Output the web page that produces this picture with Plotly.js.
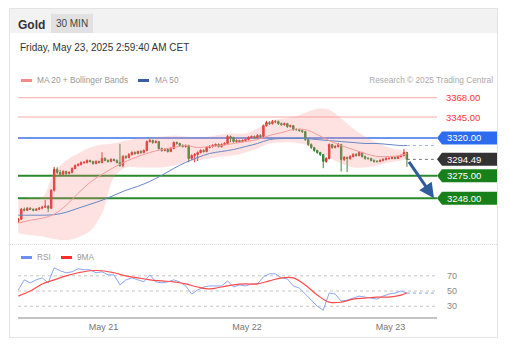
<!DOCTYPE html>
<html><head><meta charset="utf-8">
<script src="https://cdn.plot.ly/plotly-3.0.1.min.js"></script>
<style>
body{margin:0;background:#fff;font-family:Arial,"Liberation Sans",sans-serif;}
.t{position:absolute;white-space:nowrap;}
.sw{position:absolute;height:3px;width:11px;}
</style></head><body>
<div style="position:absolute;left:9px;top:8px;width:489px;height:330px;border:1px solid #e4e4e4;box-sizing:border-box;"></div>
<div style="position:absolute;left:10px;top:9px;width:487px;height:24px;background:#f2f2f2;"></div>
<div class="t" style="left:18px;top:19px;font-size:12px;line-height:12px;font-weight:bold;color:#333">Gold</div>
<div class="t" style="left:51px;top:14px;width:42px;height:19px;background:#e1e1e1;font-size:10px;line-height:19px;text-align:center;color:#444">30 MIN</div>
<div class="t" style="left:20px;top:43px;font-size:10px;line-height:10px;color:#333">Friday, May 23, 2025 2:59:40 AM CET</div>
<div class="sw" style="left:21px;top:79px;background:#f28a8a"></div>
<div class="t" style="left:37px;top:76px;font-size:8.3px;line-height:8px;color:#999">MA 20 + Bollinger Bands</div>
<div class="sw" style="left:138px;top:79px;background:#3a5fa0"></div>
<div class="t" style="left:155px;top:76px;font-size:8.3px;line-height:8px;color:#999">MA 50</div>
<div class="t" style="right:16px;top:76px;font-size:8.3px;line-height:8px;color:#aaa">Research © 2025 Trading Central</div>
<div style="position:absolute;left:10px;top:244px;width:487px;border-top:1px dotted #dcdcdc;"></div>
<div class="sw" style="left:21px;top:256px;background:#6d8ff0"></div>
<div class="t" style="left:37px;top:253px;font-size:8.3px;line-height:8px;color:#999">RSI</div>
<div class="sw" style="left:61px;top:256px;background:#ff2a2a"></div>
<div class="t" style="left:77px;top:253px;font-size:8.3px;line-height:8px;color:#999">9MA</div>
<div id="chart" style="position:absolute;left:0;top:0;width:509px;height:356px"></div>
<script>
// ---- data ----
const firstOpen = 3220.7;
const closes = [
3223.1,3235.0,3233.8,3236.2,3235.0,3233.8,3235.0,3236.2,3237.4,3238.6,
3236.2,3257.6,3282.5,3278.9,3276.6,3280.1,3277.7,3278.9,3283.7,3287.2,
3288.4,3290.8,3290.8,3293.2,3292.0,3289.6,3292.0,3290.8,3295.6,3293.2,
3292.0,3294.4,3293.2,3290.8,3287.2,3297.9,3296.7,3300.3,3302.7,3301.5,
3303.9,3302.7,3305.1,3315.7,3316.9,3314.6,3315.7,3307.4,3305.1,3306.2,
3303.9,3307.4,3314.6,3313.4,3311.0,3309.8,3311.0,3295.6,3299.1,3300.3,
3302.7,3305.1,3303.9,3308.6,3309.8,3311.0,3312.2,3309.8,3312.2,3313.4,
3321.7,3320.5,3315.7,3316.9,3315.7,3316.9,3318.1,3320.5,3321.7,3320.5,
3322.9,3321.7,3334.7,3338.3,3337.1,3339.5,3339.5,3337.1,3335.9,3337.1,
3333.6,3334.7,3330.0,3330.0,3328.8,3327.6,3318.1,3312.2,3308.6,3305.1,
3302.7,3300.3,3292.0,3295.6,3312.2,3308.6,3309.8,3312.2,3294.4,3296.7,
3295.6,3297.9,3300.3,3299.1,3302.7,3297.9,3295.6,3295.6,3293.2,3292.0,
3292.0,3293.2,3294.4,3295.6,3295.6,3296.7,3295.6,3297.9,3299.1,3302.7,
3294.49];
const highs = [
3224.5,3236.5,3237.0,3237.5,3237.4,3236.0,3236.4,3237.6,3239.0,3246.0,
3240.0,3259.0,3285.5,3285.0,3282.0,3281.5,3281.0,3280.5,3285.0,3288.5,
3290.0,3292.0,3292.5,3294.5,3294.0,3293.0,3293.5,3293.0,3303.0,3297.0,
3294.5,3295.8,3295.5,3294.5,3313.0,3299.5,3299.5,3302.0,3304.0,3304.0,
3305.0,3305.5,3306.5,3317.0,3319.0,3318.0,3317.5,3316.5,3308.5,3307.8,
3307.5,3309.0,3316.0,3315.8,3314.5,3312.5,3312.5,3312.0,3300.5,3302.0,
3304.0,3306.5,3306.5,3310.0,3311.5,3312.5,3313.5,3313.5,3313.5,3315.0,
3323.5,3323.0,3321.5,3318.5,3318.0,3318.2,3319.5,3322.0,3323.0,3323.0,
3324.5,3324.5,3336.0,3340.5,3340.0,3341.5,3341.5,3341.0,3338.5,3338.5,
3338.0,3336.0,3335.5,3331.5,3331.0,3330.0,3328.5,3319.0,3313.5,3309.5,
3306.0,3303.5,3301.0,3297.0,3313.5,3313.0,3311.5,3314.0,3313.0,3298.5,
3298.0,3299.5,3302.0,3302.0,3304.5,3303.5,3299.0,3297.0,3296.5,3294.5,
3293.5,3294.5,3295.8,3297.0,3297.0,3298.0,3298.0,3299.2,3300.5,3307.0,
3303.5];
const lows = [
3219.0,3222.0,3232.5,3232.8,3234.0,3232.5,3232.8,3234.2,3235.0,3236.5,
3231.5,3235.0,3256.0,3277.0,3275.0,3275.5,3276.0,3276.5,3277.8,3282.5,
3286.0,3287.0,3289.0,3289.5,3290.5,3288.0,3288.5,3289.5,3289.8,3292.0,
3290.5,3291.0,3292.0,3289.5,3285.5,3285.0,3295.0,3295.5,3299.0,3300.0,
3300.5,3301.0,3301.5,3304.0,3314.5,3313.0,3313.5,3306.0,3303.5,3304.0,
3302.5,3303.0,3306.5,3312.0,3309.5,3308.5,3308.5,3291.0,3294.0,3291.0,
3292.5,3301.5,3302.5,3302.8,3307.5,3308.5,3309.5,3308.5,3308.5,3311.0,
3312.5,3315.0,3314.5,3314.5,3314.5,3314.8,3315.5,3317.0,3319.5,3319.0,
3319.5,3320.0,3320.5,3333.5,3335.5,3336.0,3337.5,3335.5,3334.5,3334.5,
3332.0,3332.5,3328.5,3328.5,3327.5,3326.0,3316.5,3310.5,3307.0,3303.5,
3301.0,3298.5,3284.0,3290.5,3294.5,3307.0,3307.5,3308.5,3280.0,3292.5,
3279.5,3294.0,3296.5,3297.5,3298.0,3296.5,3294.0,3294.0,3292.0,3290.5,
3290.5,3291.0,3292.0,3293.0,3294.0,3294.5,3294.5,3294.8,3296.5,3298.0,
3285.5];
// MA / bands sampled every 4th candle (plus the last one)
const ma20 = [3218.4,3221.9,3224.3,3229.1,3239.7,3254.0,3267.1,3276.6,3284.9,3292.0,3297.9,3302.7,3306.2,3308.6,3311.0,3308.6,3309.8,3311.0,3313.4,3315.7,3318.1,3322.9,3326.4,3330.0,3330.0,3324.1,3316.9,3311.0,3306.2,3301.5,3297.9,3297.9,3299.1,3301.5];
const ma50 = [3227.9,3227.9,3227.9,3228.5,3231.4,3236.2,3240.9,3245.7,3251.6,3257.6,3262.3,3268.2,3275.4,3283.7,3290.8,3296.7,3301.5,3303.9,3306.2,3309.8,3313.4,3318.1,3319.3,3319.3,3319.3,3318.1,3316.9,3315.7,3314.6,3313.4,3313.4,3312.2,3311.0,3311.0];
const bbUpper = [3245.7,3248.1,3249.2,3278.9,3293.2,3301.5,3308.6,3312.2,3313.4,3316.9,3319.3,3320.5,3321.7,3322.9,3321.7,3320.5,3321.7,3324.1,3325.2,3325.2,3331.2,3339.5,3343.1,3345.4,3350.2,3354.9,3353.7,3343.1,3331.2,3321.7,3314.6,3308.6,3305.1,3303.9];
const bbLower = [3206.5,3204.1,3202.9,3199.4,3198.2,3201.7,3208.9,3230.2,3273.0,3284.9,3284.9,3284.9,3284.9,3287.2,3290.8,3293.2,3295.6,3297.9,3299.1,3302.7,3307.4,3313.4,3314.6,3314.6,3312.2,3305.1,3296.7,3289.6,3284.9,3284.9,3287.2,3290.8,3293.2,3294.4];
// RSI sampled every 2nd candle, 9MA every 4th candle
const rsi = [51.3,64.7,60.7,64.7,67.3,60.7,80.7,76.7,74.0,75.3,79.3,78.0,78.0,74.0,75.3,71.3,71.3,58.0,64.7,67.3,64.7,62.0,71.3,62.0,60.7,62.0,64.7,62.0,56.7,46.0,51.3,55.3,56.7,56.7,56.7,63.3,55.3,58.0,56.7,59.3,59.3,68.7,72.7,72.7,67.3,66.0,56.7,54.0,46.0,38.0,30.0,24.7,47.3,46.0,36.7,38.0,40.7,43.3,42.0,40.7,39.3,43.3,46.0,47.3,50.0,47.3];
const rsiMA9 = [43.3,50.0,59.3,64.7,70.0,74.0,76.7,76.7,74.0,70.0,67.3,64.7,63.3,62.0,59.3,55.3,52.7,55.3,58.0,59.3,59.3,63.3,67.3,67.3,58.0,44.7,35.3,35.3,39.3,40.7,42.0,42.0,44.7,47.3];
const resistLevels = [3368, 3345];
const keyLevel = 3320;
const supportLevels = [3275, 3248];
const rsiLevels = [70, 50, 30];
const tickDates = ['May 21', 'May 22', 'May 23'];

// ---- build ----
const H = 3600e3;
const T0 = Date.UTC(2025,4,20,9,45);
const times = closes.map((_, i) => T0 + i * H / 2);
const opens = [firstOpen].concat(closes.slice(0, -1));
const maIdx = []; for (let i = 0; i <= 128; i += 4) maIdx.push(i); maIdx.push(130);
const maT = maIdx.map(i => times[i]);
const rsiT = rsi.map((_, k) => times[2 * k]);
const day21 = Date.UTC(2025,4,21);
const xRange = [day21 - 14.30 * H, day21 + 55.78 * H];
const tickVals = [Date.UTC(2025,4,21), Date.UTC(2025,4,22), Date.UTC(2025,4,23)];
const lastT = times[times.length - 1];
const lastClose = closes[closes.length - 1];
const FONT = 'Arial, "Liberation Sans", sans-serif';

const traces = [
  {x: maT, y: bbUpper, type: 'scatter', mode: 'lines', line: {width: 0, shape: 'spline'}, hoverinfo: 'skip', showlegend: false},
  {x: maT, y: bbLower, type: 'scatter', mode: 'lines', line: {width: 0, shape: 'spline'}, fill: 'tonexty', fillcolor: 'rgba(250,140,140,0.25)', hoverinfo: 'skip', showlegend: false},
  {x: maT, y: ma50, type: 'scatter', mode: 'lines', line: {color: '#6687c6', width: 1, shape: 'spline'}, hoverinfo: 'skip', showlegend: false},
  {x: maT, y: ma20, type: 'scatter', mode: 'lines', line: {color: '#f49a9a', width: 1, shape: 'spline'}, hoverinfo: 'skip', showlegend: false},
  {type: 'candlestick', x: times, open: opens, high: highs, low: lows, close: closes,
   increasing: {line: {color: '#d8302c', width: 1}, fillcolor: '#d8302c'},
   decreasing: {line: {color: '#3b873b', width: 1}, fillcolor: '#3b873b'},
   whiskerwidth: 0, hoverinfo: 'skip', showlegend: false},
  {x: [lastT, xRange[1]], y: [ma50[ma50.length - 1], ma50[ma50.length - 1]], type: 'scatter', mode: 'lines', line: {color: '#9db4e6', width: 1, dash: 'dot'}, hoverinfo: 'skip', showlegend: false},
  {x: [lastT, xRange[1]], y: [lastClose, lastClose], type: 'scatter', mode: 'lines', line: {color: '#777', width: 1, dash: 'dot'}, hoverinfo: 'skip', showlegend: false},
  {x: rsiT, y: rsi, yaxis: 'y2', type: 'scatter', mode: 'lines', line: {color: '#8ba6f2', width: 1}, hoverinfo: 'skip', showlegend: false},
  {x: maT, y: rsiMA9, yaxis: 'y2', type: 'scatter', mode: 'lines', line: {color: '#ff4a4a', width: 1.2, shape: 'spline'}, hoverinfo: 'skip', showlegend: false},
  {x: [rsiT[rsiT.length - 1], xRange[1]], y: [rsi[rsi.length - 1], rsi[rsi.length - 1]], yaxis: 'y2', type: 'scatter', mode: 'lines', line: {color: '#9db4f0', width: 1.2, dash: 'dot'}, hoverinfo: 'skip', showlegend: false}
];

const shapes = [];
const annotations = [];
function hline(y, color, width, yref, dash) {
  shapes.push({type: 'line', xref: 'paper', x0: 0, x1: 1, yref: yref || 'y', y0: y, y1: y, layer: 'below', line: {color: color, width: width, dash: dash || 'solid'}});
}
function tag(y, color) {
  shapes.push({type: 'path', xref: 'paper', xsizemode: 'pixel', xanchor: 1, yref: 'y', ysizemode: 'pixel', yanchor: y,
    path: 'M0,0 L5,6.5 L60,6.5 L60,-6.5 L5,-6.5 Z', fillcolor: color, line: {width: 0}});
  annotations.push({xref: 'paper', x: 1, xanchor: 'left', xshift: 8, yref: 'y', y: y, yanchor: 'middle', showarrow: false,
    text: y.toFixed(2), font: {family: FONT, size: 9.5, color: '#fff'}});
}
resistLevels.forEach(v => {
  hline(v, '#f8a8a8', 1);
  annotations.push({xref: 'paper', x: 1, xanchor: 'left', xshift: 7, yref: 'y', y: v, yanchor: 'middle', showarrow: false,
    text: v.toFixed(2), font: {family: FONT, size: 9.5, color: '#ff3434'}});
});
hline(keyLevel, '#6c95ef', 2);
tag(keyLevel, '#2d6cef');
tag(lastClose, '#333333');
supportLevels.forEach(v => { hline(v, '#2a892a', 2); tag(v, '#17801a'); });
rsiLevels.forEach(v => {
  hline(v, '#c4c4c4', 1, 'y2', 'dot');
  annotations.push({xref: 'paper', x: 1, xanchor: 'left', xshift: 8, yref: 'y2', y: v, yanchor: 'middle', showarrow: false,
    text: String(v), font: {family: FONT, size: 9, color: '#888'}});
});
// forecast arrow toward the last support
annotations.push({xref: 'paper', x: (434 - 18) / 419, yref: 'y', y: supportLevels[1], ax: -26, ay: -38,
  showarrow: true, arrowhead: 2, arrowsize: 1, arrowwidth: 3, arrowcolor: '#2f5d9c', text: ''});

const layout = {
  width: 509, height: 356,
  margin: {l: 18, r: 72, t: 88, b: 39},
  paper_bgcolor: 'rgba(0,0,0,0)', plot_bgcolor: 'rgba(0,0,0,0)',
  font: {family: FONT},
  showlegend: false,
  xaxis: {type: 'date', range: xRange, anchor: 'y2', rangeslider: {visible: false},
    showgrid: false, zeroline: false, showline: true, linecolor: '#c4c4c4', linewidth: 2,
    tickmode: 'array', tickvals: tickVals, ticktext: tickDates, ticks: '',
    tickfont: {family: FONT, size: 9, color: '#777'}},
  yaxis: {domain: [0.3362, 1], range: [3198.3, 3379.6], showgrid: false, zeroline: false, showticklabels: false, fixedrange: true},
  yaxis2: {domain: [0, 0.2402], range: [15.8, 88.2], showgrid: false, zeroline: false, showticklabels: false},
  shapes: shapes,
  annotations: annotations
};
Plotly.newPlot('chart', traces, layout, {displayModeBar: false, staticPlot: true});
</script>
</body></html>
